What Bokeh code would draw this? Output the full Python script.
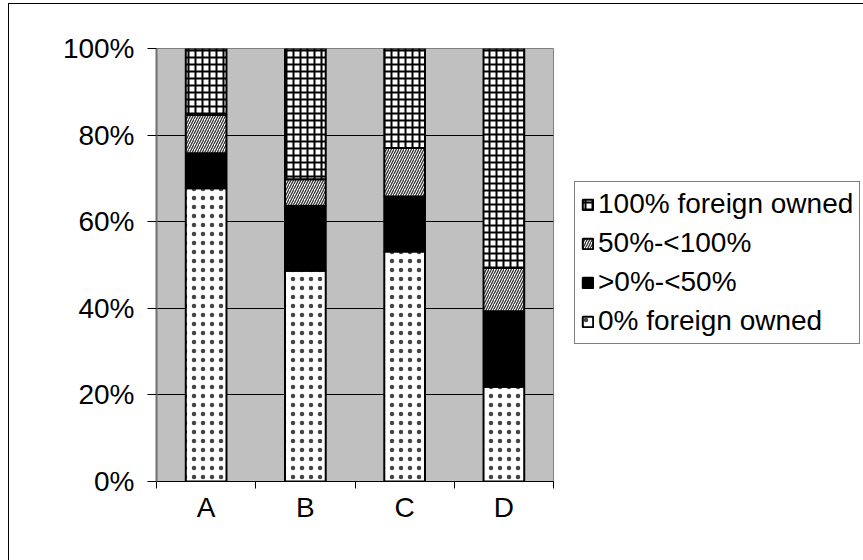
import numpy as np
from bokeh.plotting import figure
from bokeh.models import ColumnDataSource, FixedTicker, Legend, LegendItem, Range1d
from bokeh.embed import file_html
from bokeh.resources import INLINE

categories = ["A", "B", "C", "D"]
share_0 = [67.7, 48.7, 53.1, 21.9]          # 0% foreign owned
share_0_50 = [8.1, 15.0, 12.7, 17.4]        # >0%-<50%
share_50_100 = [8.9, 6.1, 11.2, 10.0]       # 50%-<100%
share_100 = [15.3, 30.2, 23.0, 50.7]        # 100% foreign owned
series_labels = ["0% foreign owned", ">0%-<50%", "50%-<100%", "100% foreign owned"]
y_ticks = [0, 20, 40, 60, 80, 100]

series = [share_0, share_0_50, share_50_100, share_100]
styles = [
    dict(fill_color="white", hatch_pattern="dot", hatch_color="#444444", hatch_scale=9, hatch_weight=0.7),
    dict(fill_color="black"),
    dict(fill_color="white", hatch_pattern="right_diagonal_line", hatch_color="#333333", hatch_scale=5, hatch_weight=1.3),
    dict(fill_color="white", hatch_pattern="cross", hatch_color="black", hatch_scale=7, hatch_weight=2),
]

xs = [i + 0.5 for i in range(len(categories))]
bounds = list(range(len(categories) + 1))
FONT = "Liberation Sans"
FS = "28px"

p = figure(output_backend="svg", toolbar_location=None,
           frame_width=397, frame_height=433,
           min_border_left=147, min_border_top=44, min_border_right=311, min_border_bottom=80,
           x_range=Range1d(0, len(categories)), y_range=Range1d(0, 100),
           margin=(3, 0, 0, 8),
           styles={"border-left": "1px solid black", "border-top": "1px solid black"})
p.background_fill_color = "#C0C0C0"
p.border_fill_color = "white"
p.outline_line_color = "#808080"
p.outline_line_width = 1

data = np.array(series)
tops = np.cumsum(data, axis=0)
bottoms = tops - data
renderers = []
for k in range(len(series)):
    src = ColumnDataSource(dict(x=xs, top=tops[k], bottom=bottoms[k]))
    r = p.vbar(x="x", top="top", bottom="bottom", width=0.41, source=src,
               line_color="black", line_width=2, **styles[k])
    renderers.append(r)

items = [LegendItem(label=series_labels[k], renderers=[renderers[k]]) for k in range(len(series))][::-1]
legend = Legend(items=items, location=(21, 137))
legend.label_text_font = FONT
legend.label_text_font_size = FS
legend.label_text_color = "black"
legend.glyph_width = 13
legend.glyph_height = 13
legend.label_standoff = 4
legend.label_height = 28
legend.spacing = 7
legend.padding = 6
legend.margin = 0
legend.border_line_color = "black"
legend.border_line_width = 1
legend.background_fill_color = "white"
legend.background_fill_alpha = 1
p.add_layout(legend, "right")

# x axis
p.xaxis.ticker = FixedTicker(ticks=xs, minor_ticks=bounds)
p.xaxis.major_label_overrides = {x: c for x, c in zip(xs, categories)}
p.xaxis.major_tick_out = 0
p.xaxis.major_tick_in = 0
p.xaxis.minor_tick_out = 7
p.xaxis.minor_tick_in = 0
p.xaxis.minor_tick_line_color = "black"
p.xaxis.axis_line_color = "black"
p.xaxis.major_label_text_font = FONT
p.xaxis.major_label_text_font_size = FS
p.xaxis.major_label_text_color = "black"
p.xaxis.major_label_standoff = 3

# y axis
p.yaxis.ticker = FixedTicker(ticks=y_ticks, minor_ticks=[])
p.yaxis.major_label_overrides = {v: f"{v}%" for v in y_ticks}
p.yaxis.major_tick_out = 9
p.yaxis.major_tick_in = 0
p.yaxis.major_tick_line_color = "black"
p.yaxis.axis_line_color = "#707070"
p.yaxis.axis_line_width = 2
p.yaxis.major_label_text_font = FONT
p.yaxis.major_label_text_font_size = FS
p.yaxis.major_label_text_color = "black"
p.yaxis.major_label_standoff = 13

p.xgrid.visible = False
p.ygrid.grid_line_color = "black"
p.ygrid.grid_line_width = 1

open("out.html", "w").write(file_html(p, INLINE))
